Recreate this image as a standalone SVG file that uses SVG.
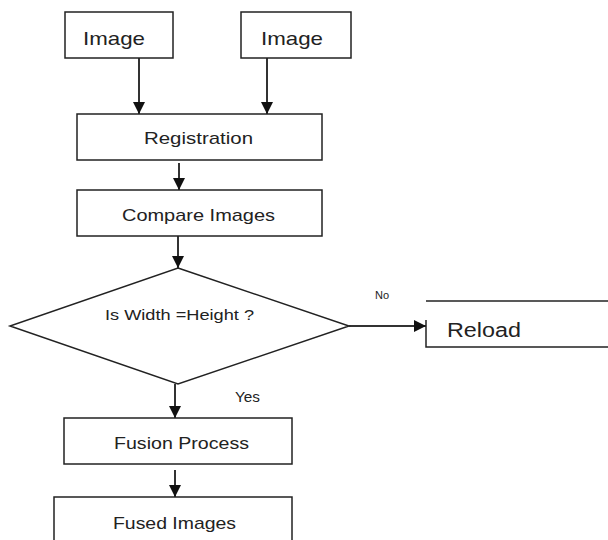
<svg xmlns="http://www.w3.org/2000/svg" width="608" height="540" viewBox="0 0 608 540">
<defs>
<style>
.box{fill:#fff;stroke:#222;stroke-width:1.5}
.ln{fill:none;stroke:#333;stroke-width:2}
.t{font-family:"Liberation Sans",Arial,sans-serif;fill:#222}
</style>
<marker id="ah" markerUnits="userSpaceOnUse" markerWidth="12" markerHeight="12" refX="12" refY="6" orient="auto">
<path d="M0,0 L12,6 L0,12 Z" fill="#111"/>
</marker>
</defs>
<rect width="608" height="540" fill="#fff"/>
<g id="connectors">
<line class="ln" x1="139" y1="58" x2="139" y2="114" marker-end="url(#ah)"/>
<line class="ln" x1="267" y1="58" x2="267" y2="114" marker-end="url(#ah)"/>
<line class="ln" x1="179" y1="163" x2="179" y2="190" marker-end="url(#ah)"/>
<line class="ln" x1="178" y1="236" x2="178" y2="268" marker-end="url(#ah)"/>
<line class="ln" x1="349" y1="326" x2="426" y2="326" marker-end="url(#ah)"/>
<line class="ln" x1="175" y1="384" x2="175" y2="418" marker-end="url(#ah)"/>
<line class="ln" x1="175" y1="470" x2="175" y2="497" marker-end="url(#ah)"/>
<text class="t" x="375" y="299" font-size="11">No</text>
<text class="t" x="235" y="402" font-size="14" textLength="25" lengthAdjust="spacingAndGlyphs">Yes</text>
</g>
<g id="image1">
<rect class="box" x="65" y="12" width="108" height="46"/>
<text class="t" x="83" y="45" font-size="19" textLength="62" lengthAdjust="spacingAndGlyphs">Image</text>
</g>
<g id="image2">
<rect class="box" x="241" y="12" width="110" height="46"/>
<text class="t" x="261" y="45" font-size="19" textLength="62" lengthAdjust="spacingAndGlyphs">Image</text>
</g>
<g id="registration">
<rect class="box" x="77" y="114" width="245" height="46"/>
<text class="t" x="144" y="144" font-size="17" textLength="109" lengthAdjust="spacingAndGlyphs">Registration</text>
</g>
<g id="compare">
<rect class="box" x="77" y="190" width="245" height="46"/>
<text class="t" x="122" y="221" font-size="17" textLength="153" lengthAdjust="spacingAndGlyphs">Compare Images</text>
</g>
<g id="decision">
<polygon class="box" points="178,268 349,326 178,384 10,326"/>
<text class="t" x="105" y="320" font-size="15" textLength="149" lengthAdjust="spacingAndGlyphs">Is Width =Height ?</text>
</g>
<g id="reload">
<line x1="426" y1="301" x2="608" y2="301" stroke="#222" stroke-width="1.5"/>
<polyline points="426,320 426,347 608,347" fill="none" stroke="#222" stroke-width="1.5"/>
<text class="t" x="447" y="337" font-size="20" textLength="74" lengthAdjust="spacingAndGlyphs">Reload</text>
</g>
<g id="fusion">
<rect class="box" x="64" y="418" width="228" height="46"/>
<text class="t" x="114" y="449" font-size="17" textLength="135" lengthAdjust="spacingAndGlyphs">Fusion Process</text>
</g>
<g id="fused">
<rect class="box" x="54" y="497" width="238" height="50"/>
<text class="t" x="113" y="529" font-size="17" textLength="123" lengthAdjust="spacingAndGlyphs">Fused Images</text>
</g>
</svg>
